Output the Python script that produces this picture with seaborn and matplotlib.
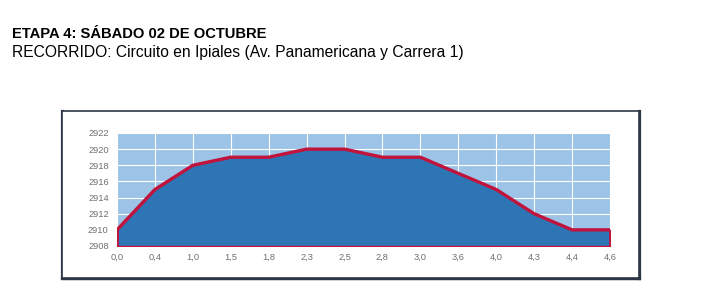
import numpy as np
import pandas as pd
import matplotlib
matplotlib.use("Agg")
import matplotlib.pyplot as plt
import seaborn as sns
from matplotlib.patches import Rectangle
from matplotlib.lines import Line2D

# Data
km_labels = ["0,0", "0,4", "1,0", "1,5", "1,8", "2,3", "2,5", "2,8", "3,0", "3,6", "4,0", "4,3", "4,4", "4,6"]
altitude = [2910, 2915, 2918, 2919, 2919, 2920, 2920, 2919, 2919, 2917, 2915, 2912, 2910, 2910]
y_ticks = [2908, 2910, 2912, 2914, 2916, 2918, 2920, 2922]

title_line1 = "ETAPA 4: SÁBADO 02 DE OCTUBRE"
title_line2 = "RECORRIDO: Circuito en Ipiales (Av. Panamericana y Carrera 1)"

sns.set_theme(style="white")
plt.rcParams['font.family'] = ['Liberation Sans', 'DejaVu Sans']

df = pd.DataFrame({"pos": np.arange(len(km_labels)), "alt": altitude})

fig = plt.figure(figsize=(7.07, 3.07), dpi=100)
W, H = 707, 307

def fx(px):
    return px / W

def fy(py):
    return 1 - py / H

# Frame with shadow
shadow = Rectangle((fx(64), fy(281)), fx(641) - fx(64), fy(114) - fy(281),
                   transform=fig.transFigure, facecolor="#dfe1e6", edgecolor="none", zorder=0)
fig.patches.append(shadow)
frame = Rectangle((fx(62), fy(277.5)), fx(638.5) - fx(62), fy(111) - fy(277.5),
                  transform=fig.transFigure, facecolor="white", edgecolor="#2c3647",
                  linewidth=1.2, zorder=1)
fig.patches.append(frame)
dark = "#2c3647"
for xs, ys in [([62, 62], [111, 277.5]), ([638.5, 638.5], [111, 277.5]), ([62, 638.5], [277.5, 277.5])]:
    fig.lines.append(Line2D([fx(v) for v in xs], [fy(v) for v in ys], transform=fig.transFigure,
                            color=dark, linewidth=2.3, zorder=1, solid_capstyle="projecting"))

ax = fig.add_axes([fx(117), fy(246), fx(610) - fx(117), fy(133) - fy(246)])
ax.set_zorder(2)
ax.set_facecolor("#9dc3e6")

base = y_ticks[0]
ax.fill_between(df["pos"], base, df["alt"], facecolor="#2e75b6", edgecolor="#c0143c",
                linewidth=1.0, zorder=2)
sns.lineplot(data=df, x="pos", y="alt", ax=ax, color="#c0143c", linewidth=2.4, zorder=4)
ax.plot([df["pos"].iloc[-1]] * 2, [base, df["alt"].iloc[-1]], color="#c0143c", lw=2.0, zorder=4)
ax.plot([df["pos"].iloc[0]] * 2, [base, df["alt"].iloc[0]], color="#c0143c", lw=2.0, zorder=4)

ax.set_xlim(0, len(km_labels) - 1)
ax.set_ylim(y_ticks[0], y_ticks[-1])
ax.set_xticks(df["pos"])
ax.set_xticklabels(km_labels)
ax.set_yticks(y_ticks)
ax.set_yticklabels([str(v) for v in y_ticks])
ax.grid(True, color="white", linewidth=0.8, zorder=1)
ax.set_axisbelow(True)
for s in ax.spines.values():
    s.set_visible(False)
ax.tick_params(axis="both", length=0, labelsize=6.7, colors="#707070")
ax.tick_params(axis="x", pad=5)
ax.tick_params(axis="y", pad=6)
ax.set_xlabel("")
ax.set_ylabel("")

fig.text(fx(12), fy(34), title_line1, fontsize=10.6, fontweight="bold", va="center", ha="left", color="black")
fig.text(fx(12), fy(52), title_line2, fontsize=11.25, va="center", ha="left", color="black")

fig.savefig("out.png", dpi=100)
